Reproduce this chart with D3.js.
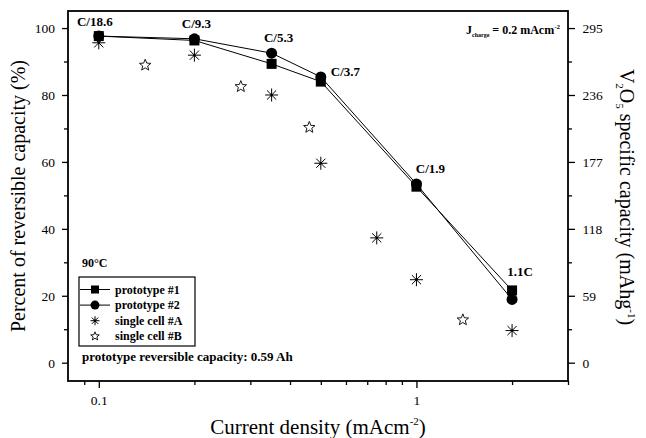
<!DOCTYPE html>
<html>
<head>
<meta charset="utf-8">
<script src="https://cdn.jsdelivr.net/npm/d3@7"></script>
</head>
<body style="margin:0;background:#fff">
<svg id="chart" width="646" height="438" style="background:#fff"></svg>
<script>
// Discharge rate study: reversible capacity vs. current density
const protoDensity = [0.1, 0.2, 0.35, 0.5, 1, 2];
const prototype1 = [97.6, 96.3, 89.3, 84.0, 52.6, 21.6];
const prototype2 = [97.6, 96.8, 92.5, 85.4, 53.4, 18.9];
const cellADensity = [0.1, 0.2, 0.35, 0.5, 0.75, 1, 2];
const cellA = [95.6, 91.9, 80.0, 59.6, 37.3, 24.8, 9.6];
const cellBDensity = [0.14, 0.28, 0.46, 1.4];
const cellB = [88.9, 82.5, 70.3, 12.8];
const rateLabels = ["C/18.6", "C/9.3", "C/5.3", "C/3.7", "C/1.9", "1.1C"];
const leftTicks = [0, 20, 40, 60, 80, 100];
const rightTicks = [0, 59, 118, 177, 236, 295];
const xMajorTicks = [0.1, 1];
const xMinorTicks = [0.09, 0.2, 0.3, 0.4, 0.5, 0.6, 0.7, 0.8, 0.9, 2, 3];
const specificPerPercent = 2.95;   // mAh/g per % of reversible capacity

const FONT = "Liberation Serif";
const svg = d3.select("#chart").attr("font-family", FONT);
svg.append("rect").attr("width", 646).attr("height", 438).attr("fill", "#fff");
const L = 68, R = 568, T = 11, B = 381;

const x = d3.scaleLog().domain([0.08, 3]).range([L, R]);
const y = d3.scaleLinear().domain([-5.47, 105.1]).range([B, T]);
const yR = d3.scaleLinear()
  .domain(y.domain().map(v => v * specificPerPercent)).range([B, T]);

// ---- axes ----
function styleAxis(g) {
  g.attr("font-family", FONT);
  g.select(".domain").remove();
  g.selectAll(".tick line").attr("stroke", "#000").attr("stroke-width", 1.3);
  g.selectAll(".tick text").attr("fill", "#000").attr("font-size", 13.5);
}
svg.append("g").attr("transform", `translate(${L},0)`)
  .call(d3.axisLeft(y).tickValues(leftTicks).tickSize(6).tickPadding(7))
  .call(styleAxis);
svg.append("g").attr("transform", `translate(${L},0)`)
  .call(d3.axisLeft(y).tickValues(d3.range(10, 101, 20)).tickSize(4).tickFormat(""))
  .call(styleAxis);
svg.append("g").attr("transform", `translate(${R},0)`)
  .call(d3.axisRight(yR).tickValues(rightTicks).tickSize(7).tickPadding(7.5))
  .call(styleAxis);
svg.append("g").attr("transform", `translate(${R},0)`)
  .call(d3.axisRight(yR).tickValues(rightTicks.slice(0, 5).map(v => v + 29.5)).tickSize(4).tickFormat(""))
  .call(styleAxis);
svg.append("g").attr("transform", `translate(0,${B})`)
  .call(d3.axisBottom(x).tickValues(xMajorTicks).tickSize(7).tickPadding(7).tickFormat(d3.format("")))
  .call(styleAxis);
svg.append("g").attr("transform", `translate(0,${B})`)
  .call(d3.axisBottom(x).tickValues(xMinorTicks).tickSize(4).tickFormat(""))
  .call(styleAxis);

// plot frame
svg.append("rect").attr("x", L).attr("y", T).attr("width", R - L).attr("height", B - T)
  .attr("fill", "none").attr("stroke", "#000").attr("stroke-width", 1.8);

// ---- axis titles ----
svg.append("text").attr("transform", `translate(25,196) rotate(-90)`)
  .attr("text-anchor", "middle").attr("font-size", 20)
  .text("Percent of reversible capacity (%)");

const xt = svg.append("text").attr("x", (L + R) / 2).attr("y", 434)
  .attr("text-anchor", "middle").attr("font-size", 21);
xt.append("tspan").text("Current density (mAcm");
xt.append("tspan").attr("dy", -9).attr("font-size", 11).text("-2");
xt.append("tspan").attr("dy", 9).text(")");

const rt = svg.append("text").attr("transform", `translate(620,197) rotate(90)`)
  .attr("text-anchor", "middle").attr("font-size", 20);
rt.append("tspan").text("V");
rt.append("tspan").attr("dy", 4).attr("font-size", 11).text("2");
rt.append("tspan").attr("dy", -4).text("O");
rt.append("tspan").attr("dy", 4).attr("font-size", 11).text("5");
rt.append("tspan").attr("dy", -4).text(" specific capacity (mAhg");
rt.append("tspan").attr("dy", -8).attr("font-size", 11).text("-1");
rt.append("tspan").attr("dy", 8).text(")");

// ---- prototype curves ----
const line = d3.line().x(d => x(d[0])).y(d => y(d[1]));
[prototype1, prototype2].forEach(series => {
  svg.append("path").datum(protoDensity.map((d, i) => [d, series[i]]))
    .attr("d", line).attr("fill", "none").attr("stroke", "#000").attr("stroke-width", 1);
});

// ---- marker shapes ----
function starPath(ro, ri) {
  const pts = [];
  for (let k = 0; k < 10; k++) {
    const a = -Math.PI / 2 + k * Math.PI / 5;
    const r = k % 2 ? ri : ro;
    pts.push([r * Math.cos(a), r * Math.sin(a)]);
  }
  return "M" + pts.map(p => p.join(",")).join("L") + "Z";
}
function asteriskPath(r) {
  const d = r * Math.SQRT1_2;
  return `M${-r},0L${r},0M0,${-r}L0,${r}M${-d},${-d}L${d},${d}M${-d},${d}L${d},${-d}`;
}
function drawMarker(g, kind, cx, cy, s) {
  if (kind === "square") {
    g.append("rect").attr("x", cx - s / 2).attr("y", cy - s / 2).attr("width", s).attr("height", s).attr("fill", "#000");
  } else if (kind === "circle") {
    g.append("circle").attr("cx", cx).attr("cy", cy).attr("r", s / 2).attr("fill", "#000");
  } else if (kind === "asterisk") {
    g.append("path").attr("transform", `translate(${cx},${cy})`).attr("d", asteriskPath(s / 2))
      .attr("stroke", "#000").attr("stroke-width", 1).attr("fill", "none");
    g.append("circle").attr("cx", cx).attr("cy", cy).attr("r", 1.2).attr("fill", "#000");
  } else {
    g.append("path").attr("transform", `translate(${cx},${cy})`).attr("d", starPath(s / 2, s / 4.6))
      .attr("stroke", "#000").attr("stroke-width", 0.9).attr("fill", "#fff");
  }
}

const marks = svg.append("g");
cellADensity.forEach((d, i) => drawMarker(marks, "asterisk", x(d), y(cellA[i]), 13));
cellBDensity.forEach((d, i) => drawMarker(marks, "star", x(d), y(cellB[i]), 12));
protoDensity.forEach((d, i) => drawMarker(marks, "square", x(d), y(prototype1[i]), 10));
protoDensity.forEach((d, i) => drawMarker(marks, "circle", x(d), y(prototype2[i]), 11));

// ---- C-rate labels ----
const labelShift = [[-4, -10], [2, -11], [7, -11], [10, -1], [14, -11], [8, -14]];
protoDensity.forEach((d, i) => {
  const top = Math.max(prototype1[i], prototype2[i]);
  const anchor = i === 3 ? "start" : "middle";
  svg.append("text").attr("x", x(d) + labelShift[i][0]).attr("y", y(top) + labelShift[i][1])
    .attr("text-anchor", anchor).attr("font-size", 13).attr("font-weight", "bold")
    .text(rateLabels[i]);
});

// ---- annotations ----
const jt = svg.append("text").attr("x", 560).attr("y", 34).attr("text-anchor", "end")
  .attr("font-size", 12).attr("font-weight", "bold");
jt.append("tspan").text("J");
jt.append("tspan").attr("dy", 3).attr("font-size", 6).text("charge");
jt.append("tspan").attr("dy", -3).text(" = 0.2 mAcm");
jt.append("tspan").attr("dy", -5).attr("font-size", 7).text("-2");

svg.append("text").attr("x", 82).attr("y", 267).attr("font-size", 12).attr("font-weight", "bold").text("90°C");
svg.append("text").attr("x", 82).attr("y", 361).attr("font-size", 13).attr("font-weight", "bold")
  .text("prototype reversible capacity: 0.59 Ah");

// ---- legend ----
const legendItems = [
  { kind: "square", label: "prototype #1", line: true },
  { kind: "circle", label: "prototype #2", line: true },
  { kind: "asterisk", label: "single cell #A", line: false },
  { kind: "star", label: "single cell #B", line: false }
];
const lg = svg.append("g");
lg.append("rect").attr("x", 79).attr("y", 277).attr("width", 116).attr("height", 69)
  .attr("fill", "#fff").attr("stroke", "#000").attr("stroke-width", 1.2);
legendItems.forEach((it, i) => {
  const cy = 289.5 + i * 15.6;
  if (it.line) lg.append("line").attr("x1", 80).attr("x2", 110).attr("y1", cy).attr("y2", cy)
    .attr("stroke", "#000").attr("stroke-width", 1);
  drawMarker(lg, it.kind, 95, cy, it.kind === "square" ? 8 : 9);
  lg.append("text").attr("x", 115).attr("y", cy + 4).attr("font-size", 12)
    .attr("font-weight", "bold").text(it.label);
});

svg.selectAll("text").attr("font-family", FONT).attr("fill", "#000");
</script>
</body>
</html>
